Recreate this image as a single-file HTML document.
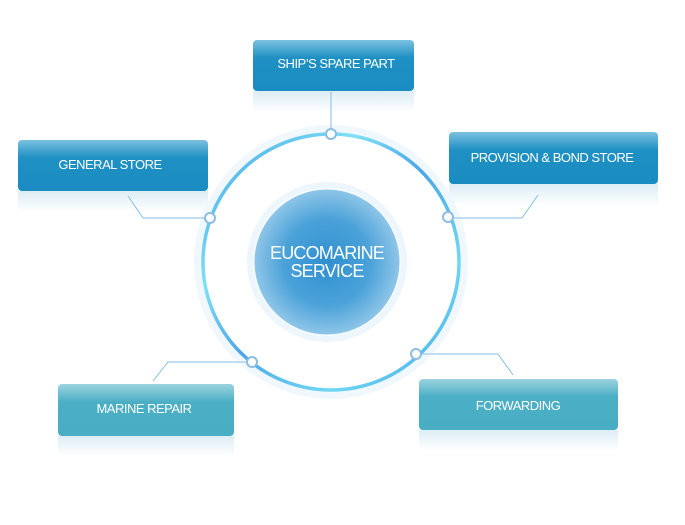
<!DOCTYPE html>
<html><head><meta charset="utf-8"><style>
html,body{margin:0;padding:0;background:#fff;}
svg{display:block;}
text{font-family:"Liberation Sans",sans-serif;fill:#fff;}
</style></head><body>
<svg width="685" height="525" viewBox="0 0 685 525" xmlns="http://www.w3.org/2000/svg">
<defs>
<linearGradient id="bb" x1="0" y1="0" x2="0" y2="1">
<stop offset="0" stop-color="#7cc1e0"/><stop offset="0.35" stop-color="#1e90c3"/><stop offset="1" stop-color="#1a8cc1"/>
</linearGradient>
<linearGradient id="tb" x1="0" y1="0" x2="0" y2="1">
<stop offset="0" stop-color="#9cd3e0"/><stop offset="0.35" stop-color="#4aaec4"/><stop offset="1" stop-color="#49adc3"/>
</linearGradient>
<linearGradient id="refl" x1="0" y1="0" x2="0" y2="1">
<stop offset="0" stop-color="#dcedf5"/><stop offset="1" stop-color="#ffffff"/>
</linearGradient>
<linearGradient id="ring" x1="0" y1="0" x2="1" y2="1">
<stop offset="0" stop-color="#3fa0e6"/><stop offset="0.3" stop-color="#7fe0f6"/><stop offset="0.5" stop-color="#4aa6e8"/><stop offset="0.75" stop-color="#6fd8f4"/><stop offset="1" stop-color="#3d9fe6"/>
</linearGradient>
<radialGradient id="core" cx="0.5" cy="0.5" r="0.5">
<stop offset="0" stop-color="#2f8fd0"/><stop offset="0.6" stop-color="#4ba2d9"/><stop offset="1" stop-color="#8ec5e8"/>
</radialGradient>
</defs>

<!-- reflections -->
<rect x="253" y="91" width="161" height="22" fill="url(#refl)"/>
<rect x="18" y="191" width="190" height="22" fill="url(#refl)"/>
<rect x="449" y="184" width="209" height="22" fill="url(#refl)"/>
<rect x="58" y="436" width="176" height="20" fill="url(#refl)"/>
<rect x="419" y="430" width="199" height="20" fill="url(#refl)"/>

<!-- halo + ring -->
<circle cx="331" cy="262" r="133" fill="none" stroke="#f1f8fd" stroke-width="8"/>
<circle cx="331" cy="262" r="128" fill="none" stroke="url(#ring)" stroke-width="3.5"/>
<circle cx="327" cy="262" r="80" fill="#edf6fc"/>
<circle cx="327" cy="262" r="74" fill="#f6fbff"/>
<circle cx="327" cy="262" r="72.5" fill="url(#core)"/>
<text x="327" y="259" font-size="18" text-anchor="middle" letter-spacing="-0.8">EUCOMARINE</text>
<text x="327" y="277" font-size="18" text-anchor="middle" letter-spacing="-0.8">SERVICE</text>

<!-- connectors -->
<g stroke="#86bfe3" stroke-width="1" fill="none">
<line x1="331" y1="92" x2="331" y2="130"/>
<polyline points="128,196 143,218 206,218"/>
<polyline points="538,195 522,218 452,218"/>
<polyline points="153,381 168,362 248,362"/>
<polyline points="513,375 498,354 420,354"/>
</g>
<g fill="#fff" stroke="#8cbde0" stroke-width="2">
<circle cx="331" cy="134" r="5"/>
<circle cx="210" cy="218" r="5"/>
<circle cx="448" cy="217" r="5"/>
<circle cx="252" cy="362" r="5"/>
<circle cx="416" cy="354" r="5"/>
</g>

<!-- boxes -->
<rect x="253" y="40" width="161" height="51" rx="4" fill="url(#bb)"/>
<text x="336" y="68" font-size="13" text-anchor="middle" letter-spacing="-0.5">SHIP’S SPARE PART</text>

<rect x="18" y="140" width="190" height="51" rx="4" fill="url(#bb)"/>
<text x="110" y="169" font-size="13" text-anchor="middle" letter-spacing="-0.5">GENERAL STORE</text>

<rect x="449" y="132" width="209" height="52" rx="4" fill="url(#bb)"/>
<text x="552" y="162" font-size="13" text-anchor="middle" letter-spacing="-0.5">PROVISION &amp; BOND STORE</text>

<rect x="58" y="384" width="176" height="52" rx="4" fill="url(#tb)"/>
<text x="144" y="413" font-size="13" text-anchor="middle" letter-spacing="-0.5">MARINE REPAIR</text>

<rect x="419" y="379" width="199" height="51" rx="4" fill="url(#tb)"/>
<text x="518" y="410" font-size="13" text-anchor="middle" letter-spacing="-0.5">FORWARDING</text>
</svg>
</body></html>
